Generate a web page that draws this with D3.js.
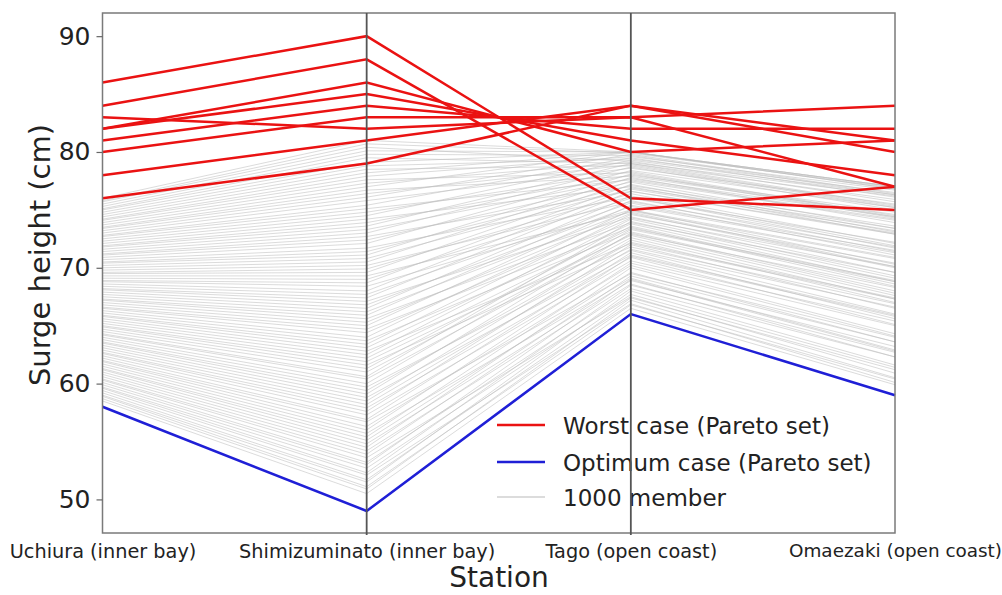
<!DOCTYPE html>
<html>
<head>
<meta charset="utf-8">
<script src="https://cdn.jsdelivr.net/npm/d3@7"></script>
<style>
  html, body { margin: 0; padding: 0; background: #ffffff; }
  svg { display: block; }
  text { font-family: "DejaVu Sans", sans-serif; fill: #222; }
</style>
</head>
<body>
<svg id="chart" width="1002" height="595"></svg>
<script>
// ---- data ----
const stations = ["Uchiura (inner bay)", "Shimizuminato (inner bay)", "Tago (open coast)", "Omaezaki (open coast)"];
const yTicks = [50, 60, 70, 80, 90];

// Worst case (Pareto set): one value per station for each member
const worstU = [86, 84, 82, 82, 81, 80, 83, 78, 76];
const worstS = [90, 88, 86, 85, 84, 83, 82, 81, 79];
const worstT = [76, 75, 80, 81, 82, 83, 83, 84, 84];
const worstO = [75, 77, 81, 78, 82, 84, 77, 81, 80];

// Optimum case (Pareto set)
const optimum = [58, 49, 66, 59];

// Ensemble members (estimated sample of the 1000 members)
const memberU = [
  58.5,58.7,58.9,59.0,59.2,59.4,59.6,59.7,59.9,60.1,
  60.3,60.4,60.6,60.8,61.0,61.2,61.3,61.5,61.7,61.9,
  62.0,62.2,62.4,62.6,62.7,62.9,63.1,63.3,63.5,63.6,
  63.8,64.0,64.2,64.3,64.5,64.7,64.9,65.0,65.2,65.4,
  65.6,65.8,65.9,66.1,66.3,66.5,66.6,66.8,67.0,67.2,
  67.3,67.5,67.7,67.9,68.1,68.2,68.4,68.6,68.8,68.9,
  69.1,69.3,69.5,69.6,69.8,70.0,70.2,70.4,70.5,70.7,
  70.9,71.1,71.2,71.4,71.6,71.8,71.9,72.1,72.3,72.5,
  72.7,72.8,73.0,73.2,73.4,73.5,73.7,73.9,74.1,74.2,
  74.4,74.6,74.8,75.0,75.1,75.3,75.5,75.7,75.8,76.0];
const memberS = [
  50.5,50.9,51.1,51.5,51.7,52.1,52.3,52.7,53.0,53.2,
  53.6,53.9,54.2,54.5,54.8,55.1,55.4,55.7,56.0,56.3,
  56.7,56.9,57.3,57.6,57.9,58.2,58.5,58.8,59.1,59.4,
  59.7,60.0,60.4,60.6,61.0,61.3,61.6,61.9,62.2,62.5,
  62.8,63.1,63.4,63.7,64.0,64.4,64.7,65.0,65.3,65.6,
  65.9,66.2,66.5,66.8,67.1,67.4,67.7,68.0,68.4,68.7,
  69.0,69.3,69.6,69.9,70.2,70.5,70.8,71.1,71.4,71.7,
  72.1,72.4,72.7,73.0,73.3,73.6,73.9,74.2,74.5,74.8,
  75.1,75.4,75.8,76.1,76.4,76.7,77.0,77.3,77.6,77.9,
  78.2,78.5,78.8,79.1,79.5,79.8,80.1,80.4,80.7,81.0];
const memberT = [
  66.5,67.2,66.8,68.0,67.4,66.9,68.5,67.7,69.0,68.2,
  67.5,69.3,68.6,70.0,68.9,69.6,70.4,69.1,71.0,70.2,
  69.5,71.3,70.6,72.0,70.9,71.6,72.4,71.1,73.0,72.2,
  71.5,73.3,72.6,74.0,72.9,73.6,71.8,72.8,73.4,74.2,
  72.1,73.8,74.6,73.1,75.0,74.3,73.5,75.4,74.7,73.9,
  75.8,74.9,76.2,75.3,74.4,76.6,75.6,76.9,75.0,77.2,
  76.0,74.8,77.5,76.4,75.7,77.8,76.8,78.1,77.1,76.1,
  78.4,77.4,76.6,78.7,77.7,79.0,78.0,77.0,79.3,78.3,
  77.6,79.5,78.6,79.8,78.9,77.9,80.0,79.1,78.2,79.6,
  80.0,78.8,79.4,80.0,79.0,79.7,80.0,79.2,79.9,80.0];
const memberO = [
  59.9,60.5,60.4,61.6,61.2,60.1,62.7,61.4,62.8,62.3,
  60.9,63.6,62.3,64.1,63.2,63.6,65.0,62.9,65.8,64.3,
  64.0,65.6,65.4,66.5,65.1,66.6,67.0,65.9,67.8,67.4,
  66.0,68.8,67.3,69.1,68.3,68.6,66.9,67.6,68.9,69.3,
  67.3,68.8,70.4,68.0,70.3,70.1,68.4,71.5,70.0,69.6,
  71.4,70.8,71.9,71.3,69.6,72.9,71.1,73.4,70.9,73.1,
  72.2,70.1,74.1,72.1,71.8,73.9,73.2,74.3,73.6,71.7,
  75.2,73.4,73.0,75.0,74.4,75.4,74.8,72.9,76.3,74.5,
  74.2,76.1,75.5,76.4,75.3,74.6,76.8,76.2,74.4,76.7,
  77.0,75.2,76.5,76.8,75.9,76.3,77.0,75.7,76.9,77.0];

const legendItems = ["Worst case (Pareto set)", "Optimum case (Pareto set)", "1000 member"];

// ---- layout ----
const svg = d3.select("#chart");
const pLeft = 102.5, pRight = 895, pTop = 13, pBottom = 533;

const x = d3.scalePoint().domain(stations).range([pLeft, pRight]);
const y = d3.scaleLinear().domain([47.1, 92.0]).range([pBottom, pTop]);

const line = d3.line().x(d => x(d[0])).y(d => y(d[1]));
const rowsOf = (arrs) => arrs[0].map((_, i) => stations.map((s, k) => [s, arrs[k][i]]));

const members = rowsOf([memberU, memberS, memberT, memberO]);
const worst = rowsOf([worstU, worstS, worstT, worstO]);
const opt = stations.map((s, k) => [s, optimum[k]]);

const plot = svg.append("g");

plot.selectAll("path.member").data(members).join("path")
  .attr("class", "member")
  .attr("d", line)
  .attr("fill", "none")
  .attr("stroke", "#bdbdbd")
  .attr("stroke-opacity", 0.55)
  .attr("stroke-width", 1);

plot.append("path")
  .attr("d", line(opt))
  .attr("fill", "none")
  .attr("stroke", "#1f1fd6")
  .attr("stroke-width", 2.5);

plot.selectAll("path.worst").data(worst).join("path")
  .attr("class", "worst")
  .attr("d", line)
  .attr("fill", "none")
  .attr("stroke", "#ea1212")
  .attr("stroke-width", 2.5);

// legend
const legColors = ["#ea1212", "#1f1fd6", "#d0d0d0"];
const legY = [425, 462, 497];
const leg = svg.append("g");
legendItems.forEach((t, i) => {
  leg.append("line").attr("x1", 497).attr("x2", 545).attr("y1", legY[i]).attr("y2", legY[i])
    .attr("stroke", legColors[i]).attr("stroke-width", i === 2 ? 1.5 : 2.5);
  leg.append("text").attr("x", 563).attr("y", legY[i] + 8.5)
    .style("font-size", "23px").text(t);
});

// frame
svg.append("rect")
  .attr("x", pLeft).attr("y", pTop)
  .attr("width", pRight - pLeft).attr("height", pBottom - pTop)
  .attr("fill", "none").attr("stroke", "#7a7a7a").attr("stroke-width", 1.5);

// parallel axes
svg.selectAll("line.pax").data(stations.slice(1, 3)).join("line")
  .attr("class", "pax")
  .attr("x1", d => x(d)).attr("x2", d => x(d))
  .attr("y1", pTop).attr("y2", pBottom + 2)
  .attr("stroke", "#555").attr("stroke-width", 1.8);

// y axis
const yAxis = svg.append("g").attr("transform", `translate(${pLeft},0)`)
  .call(d3.axisLeft(y).tickValues(yTicks).tickSize(6).tickPadding(6).tickFormat(d3.format("d")));
yAxis.select(".domain").remove();
yAxis.selectAll(".tick line").attr("stroke", "#666").attr("stroke-width", 1.2);
yAxis.selectAll(".tick text").style("font-size", "25px").style("font-family", "DejaVu Sans").attr("fill", "#222");

// x axis
const xAxis = svg.append("g").attr("transform", `translate(0,${pBottom})`)
  .call(d3.axisBottom(x).tickSize(0).tickPadding(11));
xAxis.select(".domain").remove();
xAxis.selectAll(".tick text")
  .style("font-size", (d, i) => i === stations.length - 1 ? "18.4px" : "19.3px")
  .style("font-family", "DejaVu Sans").attr("fill", "#222");

// axis titles
svg.append("text").attr("transform", "translate(50,255) rotate(-90)")
  .attr("text-anchor", "middle").style("font-size", "29px").text("Surge height (cm)");
svg.append("text").attr("x", 499).attr("y", 587)
  .attr("text-anchor", "middle").style("font-size", "28px").text("Station");
</script>
</body>
</html>
